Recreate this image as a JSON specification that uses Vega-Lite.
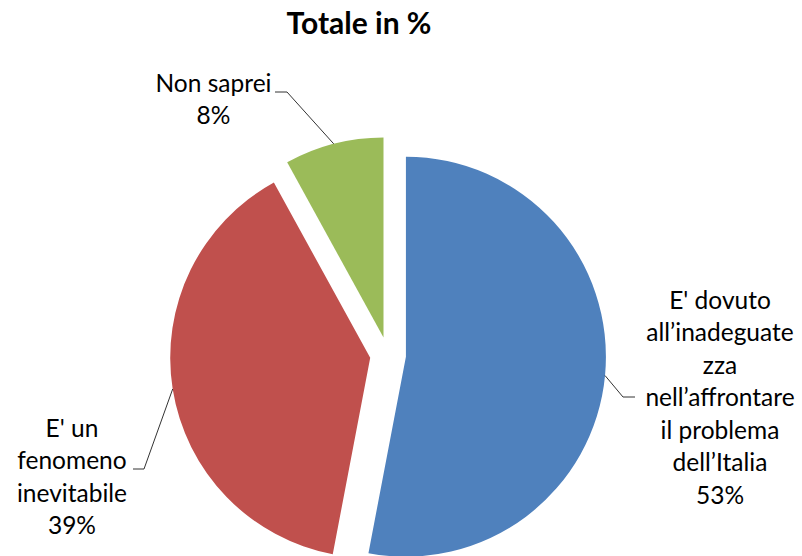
{
  "$schema": "https://vega.github.io/schema/vega-lite/v6.json",
  "width": 776,
  "height": 402,
  "autosize": "none",
  "padding": {"left": 0, "top": 154, "right": 26, "bottom": 0},
  "background": "white",
  "title": {"text": "Totale in %", "font": "Lato", "fontSize": 30, "fontWeight": "bold", "color": "black", "anchor": "middle", "offset": 32, "dx": -29},
  "data": {"values": [
    {"order": 1, "cat": "E' dovuto all'inadeguatezza nell'affrontare il problema dell'Italia", "label": "E' dovuto\nall’inadeguate\nzza\nnell’affrontare\nil problema\ndell’Italia\n53%", "value": 53},
    {"order": 2, "cat": "E' un fenomeno inevitabile", "label": "E' un\nfenomeno\ninevitabile\n39%", "value": 39},
    {"order": 3, "cat": "Non saprei", "label": "Non saprei\n8%", "value": 8}
  ]},
  "transform": [
    {"window": [{"op": "sum", "field": "value", "as": "cum"}], "sort": [{"field": "order"}], "frame": [null, 0]},
    {"calculate": "datum.cum - datum.value", "as": "start"},
    {"calculate": "datum.cum - datum.value / 2", "as": "mid"}
  ],
  "layer": [
    {
      "mark": {"type": "arc", "outerRadius": 200, "x": {"expr": "width/2 + 18*sin(datum.mid*PI/50)"}, "y": {"expr": "height/2 - 18*cos(datum.mid*PI/50)"}},
      "encoding": {
        "theta": {"field": "start", "type": "quantitative", "scale": {"domain": [0, 100], "range": [0, 6.283185307]}},
        "theta2": {"field": "cum"},
        "color": {"field": "cat", "type": "nominal", "legend": null, "scale": {"domain": ["E' dovuto all'inadeguatezza nell'affrontare il problema dell'Italia", "E' un fenomeno inevitabile", "Non saprei"], "range": ["#4F81BD", "#C0504D", "#9BBB59"]}}
      }
    },
    {
      "transform": [{"filter": "datum.order == 1"}],
      "mark": {"type": "text", "font": "Lato", "fontSize": 24.5, "lineHeight": 32.5, "lineBreak": "\n", "color": "black", "align": "center", "baseline": "middle", "radius": 336.2, "thetaOffset": -0.2526},
      "encoding": {"theta": {"field": "mid", "type": "quantitative", "stack": null}, "text": {"field": "label"}}
    },
    {
      "transform": [{"filter": "datum.order == 2"}],
      "mark": {"type": "text", "font": "Lato", "fontSize": 24.5, "lineHeight": 32.5, "lineBreak": "\n", "color": "black", "align": "center", "baseline": "middle", "radius": 324.8, "thetaOffset": -0.0759},
      "encoding": {"theta": {"field": "mid", "type": "quantitative", "stack": null}, "text": {"field": "label"}}
    },
    {
      "transform": [{"filter": "datum.order == 3"}],
      "mark": {"type": "text", "font": "Lato", "fontSize": 24.5, "lineHeight": 32.5, "lineBreak": "\n", "color": "black", "align": "center", "baseline": "middle", "radius": 321.5, "thetaOffset": -0.3224},
      "encoding": {"theta": {"field": "mid", "type": "quantitative", "stack": null}, "text": {"field": "label"}}
    },
    {
      "transform": [{"filter": "datum.order == 1"}],
      "mark": {"type": "rule", "color": "#333333", "strokeWidth": 1},
      "encoding": {"x": {"value": {"expr": "width/2 + 217"}}, "y": {"value": {"expr": "height/2 + 20.5"}}, "x2": {"value": {"expr": "width/2 + 235"}}, "y2": {"value": {"expr": "height/2 + 42"}}}
    },
    {
      "transform": [{"filter": "datum.order == 1"}],
      "mark": {"type": "rule", "color": "#333333", "strokeWidth": 1},
      "encoding": {"x": {"value": {"expr": "width/2 + 235"}}, "y": {"value": {"expr": "height/2 + 42"}}, "x2": {"value": {"expr": "width/2 + 247"}}, "y2": {"value": {"expr": "height/2 + 42"}}}
    },
    {
      "transform": [{"filter": "datum.order == 2"}],
      "mark": {"type": "rule", "color": "#333333", "strokeWidth": 1},
      "encoding": {"x": {"value": {"expr": "width/2 - 215.3"}}, "y": {"value": {"expr": "height/2 + 34"}}, "x2": {"value": {"expr": "width/2 - 244"}}, "y2": {"value": {"expr": "height/2 + 114"}}}
    },
    {
      "transform": [{"filter": "datum.order == 2"}],
      "mark": {"type": "rule", "color": "#333333", "strokeWidth": 1},
      "encoding": {"x": {"value": {"expr": "width/2 - 244"}}, "y": {"value": {"expr": "height/2 + 114"}}, "x2": {"value": {"expr": "width/2 - 255"}}, "y2": {"value": {"expr": "height/2 + 114"}}}
    },
    {
      "transform": [{"filter": "datum.order == 3"}],
      "mark": {"type": "rule", "color": "#333333", "strokeWidth": 1},
      "encoding": {"x": {"value": {"expr": "width/2 - 54.3"}}, "y": {"value": {"expr": "height/2 - 211.2"}}, "x2": {"value": {"expr": "width/2 - 101"}}, "y2": {"value": {"expr": "height/2 - 263"}}}
    },
    {
      "transform": [{"filter": "datum.order == 3"}],
      "mark": {"type": "rule", "color": "#333333", "strokeWidth": 1},
      "encoding": {"x": {"value": {"expr": "width/2 - 101"}}, "y": {"value": {"expr": "height/2 - 263"}}, "x2": {"value": {"expr": "width/2 - 113"}}, "y2": {"value": {"expr": "height/2 - 263"}}}
    }
  ],
  "config": {"view": {"stroke": null}}
}
